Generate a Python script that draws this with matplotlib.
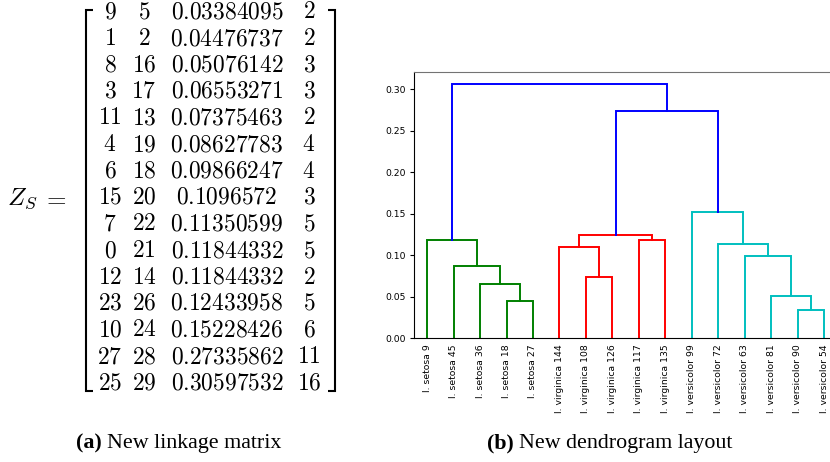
import matplotlib
matplotlib.use("Agg")
import matplotlib.pyplot as plt
from matplotlib.ticker import FixedLocator, FormatStrFormatter

plt.rcParams['mathtext.fontset'] = 'cm'

# Linkage matrix: merged cluster ids, merge distance, cluster size
left_ids = [9, 1, 8, 3, 11, 4, 6, 15, 7, 0, 12, 23, 10, 27, 25]
right_ids = [5, 2, 16, 17, 13, 19, 18, 20, 22, 21, 14, 26, 24, 28, 29]
heights = [0.03384095, 0.04476737, 0.05076142, 0.06553271, 0.07375463,
           0.08627783, 0.09866247, 0.1096572, 0.11350599, 0.11844332,
           0.11844332, 0.12433958, 0.15228426, 0.27335862, 0.30597532]
counts = [2, 2, 3, 3, 2, 4, 4, 3, 5, 5, 2, 5, 6, 11, 16]

leaf_labels = ["I. setosa 9", "I. setosa 18", "I. setosa 27", "I. setosa 36",
               "I. setosa 45", "I. versicolor 54", "I. versicolor 63",
               "I. versicolor 72", "I. versicolor 81", "I. versicolor 90",
               "I. versicolor 99", "I. virginica 108", "I. virginica 117",
               "I. virginica 126", "I. virginica 135", "I. virginica 144"]

y_ticks = [0.00, 0.05, 0.10, 0.15, 0.20, 0.25, 0.30]

W, H = 830, 462
fig = plt.figure(figsize=(W / 100, H / 100), dpi=100)

# ---- overlay in pixel units for the matrix and captions ----
ov = fig.add_axes([0, 0, 1, 1])
ov.set_xlim(0, W)
ov.set_ylim(H, 0)
ov.axis('off')

mfs = 16.9
col_x = [110, 144, 227, 309]
row0, row_step = 18.5, 26.5


def fmt_h(v):
    return f"{v:.8f}".rstrip('0')


for i in range(len(heights)):
    yb = row0 + i * row_step
    cells = [str(left_ids[i]), str(right_ids[i]), fmt_h(heights[i]), str(counts[i])]
    for cx, s in zip(col_x, cells):
        ov.text(cx, yb, f"${s}$", ha='center', va='baseline', fontsize=mfs)

# brackets
top, bot = 9.5, 391
lb, rb, stub = 86, 335, 7
blw = 1.5
ov.plot([lb + stub, lb, lb, lb + stub], [top, top, bot, bot], color='black',
        lw=blw, solid_joinstyle='miter', solid_capstyle='butt')
ov.plot([rb - stub, rb, rb, rb - stub], [top, top, bot, bot], color='black',
        lw=blw, solid_joinstyle='miter', solid_capstyle='butt')

ov.text(7, 205, r"$Z_S$", ha='left', va='baseline', fontsize=mfs + 1.2)
ov.text(67, 205, r"$=$", ha='right', va='baseline', fontsize=mfs + 1.2)

# captions
cfs = 15.8
space_px = 0.25 * cfs * 100 / 72
for start, tag, body in [(107, "(a)", "New linkage matrix"),
                         (519, "(b)", "New dendrogram layout")]:
    ov.text(start - space_px, 448, tag, ha='right', va='baseline',
            fontsize=cfs, fontweight='bold', family='Liberation Serif')
    ov.text(start, 448, body, ha='left', va='baseline',
            fontsize=cfs, family='Liberation Serif')

# ---- dendrogram ----
n = len(leaf_labels)


def leaves_of(node):
    if node < n:
        return [node]
    r = node - n
    return leaves_of(left_ids[r]) + leaves_of(right_ids[r])


root = n + len(heights) - 1
order = leaves_of(root)
pos = {}
for k, leaf in enumerate(order):
    pos[leaf] = 5 + 10 * k

threshold = 0.7 * max(heights)
palette = ['g', 'r', 'c', 'm', 'y', 'k']
link_color = {}
pal_idx = [0]


def assign(node, color):
    if node < n:
        return
    r = node - n
    if heights[r] < threshold:
        if color is None:
            color = palette[pal_idx[0] % len(palette)]
            pal_idx[0] += 1
        link_color[r] = color
        assign(left_ids[r], color)
        assign(right_ids[r], color)
    else:
        link_color[r] = 'b'
        assign(left_ids[r], None)
        assign(right_ids[r], None)


assign(root, None)


def node_xy(node):
    if node < n:
        return pos[node], 0.0
    r = node - n
    xl, _ = node_xy(left_ids[r])
    xr, _ = node_xy(right_ids[r])
    return (xl + xr) / 2, heights[r]


x0 = 413.8 / W
ax = fig.add_axes([x0, (H - 338) / H, 423.8 / W, 266.3 / H])
for r in range(len(heights)):
    xl, yl = node_xy(left_ids[r])
    xr, yr = node_xy(right_ids[r])
    h = heights[r]
    ax.plot([xl, xl, xr, xr], [yl, h, h, yr], color=link_color[r], lw=1.4,
            solid_joinstyle='miter')

ax.set_xlim(0, 10 * n)
ax.set_ylim(0, max(heights) * 1.05)
ax.set_xticks([pos[l] for l in order])
ax.set_xticklabels([leaf_labels[l] for l in order], rotation=90, fontsize=6.7)
ax.tick_params(axis='x', length=0, pad=4.6)
ax.yaxis.set_major_locator(FixedLocator(y_ticks))
ax.yaxis.set_major_formatter(FormatStrFormatter('%.2f'))
ax.tick_params(axis='y', labelsize=6.7, length=2.6, width=0.8, pad=3.2)
ax.spines['top'].set_color('0.45')
for s in ['left', 'bottom']:
    ax.spines[s].set_color('black')

fig.savefig("out.png", dpi=100)
